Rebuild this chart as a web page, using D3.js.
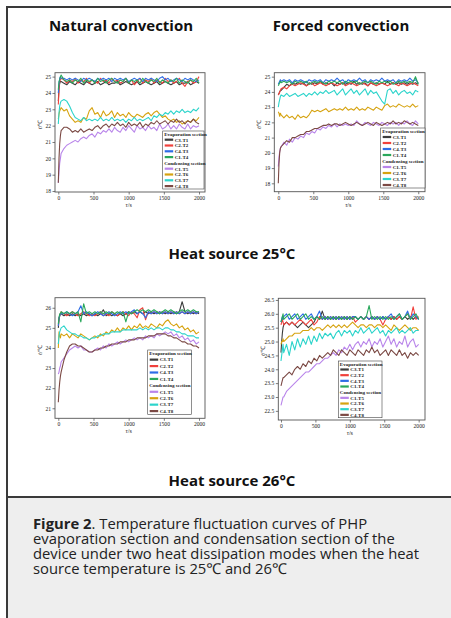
<!DOCTYPE html>
<html><head><meta charset="utf-8">
<script src="https://cdn.jsdelivr.net/npm/d3@7"></script>
<style>html,body{margin:0;padding:0;background:#fff;}svg{display:block;}#wrap{position:relative;width:451px;height:618px;}</style>
</head><body>
<div id="wrap"></div>
<script>
// ---------- DATA ----------
const time = [0,10,20,30,40,80,120,160,200,240,280,320,360,400,440,480,520,560,600,640,680,720,760,800,840,880,920,960,1000,1040,1080,1120,1160,1200,1240,1280,1320,1360,1400,1440,1480,1520,1560,1600,1640,1680,1720,1760,1800,1840,1880,1920,1960,2000];
const seriesNames = ["C3-T1","C2-T2","C4-T3","C1-T4","C1-T5","C2-T6","C3-T7","C4-T8"];
const xTicks = [0,500,1000,1500,2000];
const yTicksNat25 = [18,19,20,21,22,23,24,25];
const yTicksFor25 = [18,19,20,21,22,23,24,25];
const yTicksNat26 = [21,22,23,24,25,26];
const yTicksFor26 = [22.5,23.0,23.5,24.0,24.5,25.0,25.5,26.0,26.5];

// Natural convection, heat source 25°C
const nat25_T1 = [23.5,24.3,24.6,24.7,24.7,24.6,24.5,24.7,24.6,24.5,24.7,24.6,24.5,24.7,24.6,24.5,24.6,24.7,24.5,24.6,24.7,24.5,24.6,24.6,24.7,24.5,24.6,24.7,24.6,24.5,24.6,24.7,24.5,24.6,24.7,24.6,24.5,24.6,24.7,24.5,24.6,24.7,24.6,24.5,24.6,24.7,24.5,24.6,24.6,24.7,24.5,24.6,24.7,24.6];
const nat25_T2 = [23.3,24.2,24.7,24.8,24.9,24.8,24.6,24.8,24.7,24.9,24.6,24.8,24.7,24.9,24.6,24.8,24.7,24.6,24.9,24.7,24.8,24.6,24.9,24.7,24.8,24.6,24.7,24.9,24.6,24.8,24.5,24.7,24.9,24.6,24.8,24.7,24.9,24.6,24.8,24.7,24.6,24.9,24.7,24.8,24.6,24.7,24.9,24.6,24.4,24.7,24.8,24.6,24.7,25.0];
const nat25_T3 = [24.0,24.6,24.9,25.0,24.9,24.9,24.8,24.9,24.8,24.9,24.8,24.7,24.9,24.8,24.9,24.8,24.7,24.9,24.8,24.9,24.8,24.9,24.7,24.9,24.8,24.9,24.8,24.9,24.7,24.8,24.9,24.8,24.9,24.7,24.9,24.8,24.9,24.8,24.7,24.9,25.0,24.8,24.9,24.7,24.8,24.9,24.8,24.7,24.9,24.8,24.9,24.8,24.7,24.8];
const nat25_T4 = [24.2,24.7,24.8,25.0,25.1,24.8,24.7,24.8,24.6,24.8,24.7,24.9,24.6,24.8,24.7,24.8,24.6,24.9,24.7,24.8,24.6,24.8,24.9,24.7,24.6,24.8,24.7,24.9,24.6,24.8,24.7,24.8,24.6,24.9,24.7,24.6,24.8,24.7,24.9,24.6,24.8,24.7,24.6,24.8,24.7,24.9,24.6,24.8,24.7,24.6,24.8,24.7,24.9,24.6];
const nat25_T5 = [18.5,19.2,19.7,20.0,20.3,20.6,20.8,20.9,21.0,21.1,21.0,21.2,21.3,21.2,21.4,21.5,21.3,21.6,21.5,21.7,21.6,21.8,21.6,21.9,21.7,21.6,21.9,21.7,22.0,21.8,21.6,22.0,21.8,21.9,21.7,22.0,21.8,21.9,21.7,22.1,21.8,21.9,22.1,21.8,22.0,21.8,22.1,21.9,21.8,22.1,21.8,22.0,21.9,22.0];
const nat25_T6 = [22.4,22.7,22.9,23.0,23.1,22.9,23.0,22.6,22.4,22.2,22.3,22.2,22.5,22.4,22.9,23.1,22.7,22.8,22.5,22.9,22.6,22.7,22.9,22.5,22.8,22.6,22.7,22.5,22.8,22.6,22.5,22.7,22.6,22.5,22.7,22.8,22.6,22.8,22.9,22.7,22.5,22.6,22.4,22.3,22.4,22.2,22.3,22.1,22.2,22.3,22.2,22.4,22.3,22.5];
const nat25_T7 = [22.1,22.8,23.2,23.4,23.5,23.6,23.5,23.2,22.8,22.5,22.4,22.3,22.5,22.3,22.4,22.3,22.4,22.3,22.5,22.3,22.4,22.3,22.5,22.3,22.4,22.3,22.4,22.2,22.4,22.3,22.5,22.3,22.4,22.3,22.4,22.5,22.3,22.6,22.5,22.7,22.6,22.8,22.7,22.9,22.7,22.9,22.8,23.0,22.8,22.9,22.8,23.0,22.9,23.1];
const nat25_T8 = [18.5,20.0,20.9,21.4,21.7,21.9,21.9,21.8,21.6,21.7,21.6,21.8,21.6,21.7,21.8,21.7,21.9,22.0,21.8,22.0,22.1,21.9,22.1,22.0,22.2,22.0,22.1,21.9,22.2,22.0,22.1,22.0,22.2,21.9,22.1,22.0,22.2,22.1,22.3,22.1,22.2,22.3,22.1,22.3,22.2,22.4,22.2,22.3,22.1,22.3,22.2,22.4,22.2,22.1];

// Forced convection, heat source 25°C
const for25_T1 = [23.8,23.9,24.0,24.1,24.1,24.3,24.5,24.4,24.6,24.5,24.6,24.5,24.6,24.4,24.6,24.5,24.6,24.5,24.7,24.5,24.6,24.5,24.6,24.4,24.6,24.5,24.6,24.5,24.6,24.5,24.7,24.5,24.6,24.5,24.6,24.4,24.6,24.5,24.6,24.5,24.6,24.5,24.7,24.5,24.6,24.5,24.6,24.5,24.6,24.5,24.6,24.5,24.6,24.5];
const for25_T2 = [23.8,23.9,24.0,24.1,24.2,24.3,24.2,24.4,24.5,24.4,24.5,24.6,24.5,24.4,24.5,24.6,24.4,24.5,24.6,24.5,24.4,24.5,24.6,24.5,24.4,24.5,24.6,24.4,24.5,24.6,24.5,24.4,24.5,24.6,24.5,24.4,24.6,24.5,24.4,24.5,24.6,24.5,24.4,24.5,24.6,24.5,24.4,24.6,24.5,24.4,24.5,24.6,24.5,24.4];
const for25_T3 = [24.5,24.6,24.7,24.8,24.7,24.8,24.7,24.8,24.6,24.8,24.7,24.8,24.7,24.6,24.8,24.7,24.8,24.7,24.8,24.6,24.8,24.7,24.8,24.7,24.9,24.7,24.8,24.6,24.8,24.7,24.8,24.7,24.9,24.7,24.8,24.6,24.8,24.7,24.8,24.7,24.9,24.7,24.8,24.7,24.8,24.6,24.8,24.7,24.8,24.7,24.9,24.7,24.8,24.6];
const for25_T4 = [24.4,24.5,24.6,24.7,24.6,24.7,24.6,24.7,24.5,24.7,24.6,24.7,24.6,24.7,24.5,24.6,24.7,24.6,24.7,24.6,24.5,24.7,24.6,24.7,24.6,24.7,24.5,24.7,24.6,24.7,24.6,24.7,24.5,24.6,24.7,24.6,24.7,24.6,24.5,24.7,24.6,24.7,24.6,24.7,24.5,24.6,24.7,24.6,24.7,24.6,24.7,24.6,25.0,24.5];
const for25_T5 = [19.1,19.7,20.1,20.3,20.4,20.7,20.5,20.9,20.7,21.0,20.9,21.1,21.0,21.3,21.2,21.4,21.3,21.6,21.5,21.7,21.6,21.8,21.7,21.9,21.7,21.9,21.8,21.9,21.8,21.9,21.8,22.1,21.9,21.8,22.0,21.9,21.8,22.0,21.9,21.8,22.0,21.9,21.8,22.0,21.9,22.0,21.8,22.0,21.9,22.1,21.9,21.8,22.1,21.9];
const for25_T6 = [22.7,22.6,22.4,22.6,22.5,22.3,22.5,22.3,22.4,22.2,22.5,22.3,22.4,22.3,22.5,22.8,22.7,22.8,22.7,22.8,22.9,22.7,22.8,22.9,22.8,22.9,22.8,23.0,22.8,22.9,22.8,23.0,22.8,22.9,22.8,23.0,22.9,22.8,23.0,22.9,22.8,23.1,23.2,23.0,23.1,23.0,23.2,23.1,23.0,23.1,23.0,23.2,23.0,23.1];
const for25_T7 = [23.0,23.3,23.5,23.7,23.8,23.7,23.9,23.7,23.8,23.9,23.7,23.8,23.9,23.7,23.9,23.8,24.0,23.8,24.0,23.9,24.1,23.9,24.0,24.1,23.8,24.0,24.2,23.8,24.0,24.2,23.9,24.1,23.8,24.0,24.2,23.8,24.1,23.9,24.0,23.7,23.4,23.2,24.1,24.2,23.9,24.1,23.8,24.0,24.1,23.9,24.0,23.8,24.1,24.0];
const for25_T8 = [18.0,19.3,20.0,20.3,20.4,20.6,20.8,20.7,21.0,21.0,21.1,21.2,21.2,21.4,21.4,21.5,21.6,21.6,21.7,21.8,21.8,21.9,21.8,21.9,21.9,21.8,21.9,22.0,21.9,21.8,21.9,22.0,21.9,21.8,21.9,22.0,21.9,21.8,22.0,21.9,21.8,21.9,22.0,21.9,22.1,21.9,22.0,21.9,22.1,22.0,21.9,22.0,21.9,21.8];

// Natural convection, heat source 26°C
const nat26_T1 = [25.0,25.4,25.6,25.7,25.7,25.6,25.7,25.6,25.7,25.6,25.7,25.6,25.7,25.6,25.7,25.6,25.7,25.6,25.7,25.9,25.6,25.7,25.6,25.7,25.6,25.7,25.6,25.7,25.8,25.7,25.8,25.7,25.8,25.7,25.8,25.7,25.8,25.7,25.8,25.7,25.8,25.7,25.8,25.7,25.8,25.7,25.8,26.3,25.8,25.7,25.8,25.7,25.8,25.7];
const nat26_T2 = [25.1,25.5,25.6,25.7,25.8,25.7,25.6,25.7,25.8,25.7,25.6,25.7,25.8,25.7,25.6,25.7,25.6,25.7,25.8,25.6,25.7,25.6,25.8,25.7,25.6,25.7,25.8,25.7,25.6,25.8,25.7,25.5,25.9,26.0,25.4,25.8,25.7,25.8,25.7,25.8,25.7,25.8,25.7,25.8,25.7,25.8,25.7,25.8,25.7,25.8,25.7,25.8,25.7,25.8];
const nat26_T3 = [25.1,25.5,25.6,25.7,25.7,25.7,25.8,25.7,25.6,25.7,25.8,26.1,25.7,25.8,25.7,25.6,25.7,25.8,25.7,25.6,25.7,25.8,25.7,25.6,25.7,25.8,25.7,25.8,25.7,25.8,25.9,25.7,25.8,25.7,25.5,25.8,25.7,25.8,25.7,25.8,25.7,25.8,25.7,25.8,25.7,25.8,25.7,25.8,25.7,25.8,25.7,25.8,25.7,25.8];
const nat26_T4 = [25.2,25.5,25.7,25.7,25.8,25.7,25.8,25.7,25.8,25.7,25.8,25.3,26.2,25.7,25.8,25.7,25.8,25.7,25.8,25.7,25.8,25.7,25.8,25.7,25.8,25.7,25.8,25.3,25.8,25.7,25.8,25.9,25.8,25.9,25.8,25.9,25.8,25.9,25.8,25.7,25.8,25.9,25.8,25.9,25.8,25.7,25.8,25.9,25.8,25.9,25.8,25.9,25.8,25.8];
const nat26_T5 = [22.7,22.8,23.0,23.1,23.3,23.5,23.7,23.9,24.0,24.1,24.0,24.1,23.9,23.9,23.8,23.8,23.9,24.0,23.9,24.1,24.0,24.2,24.1,24.2,24.3,24.2,24.3,24.4,24.3,24.4,24.5,24.4,24.5,24.4,24.6,24.5,24.6,24.5,24.7,24.6,24.7,24.8,24.7,24.8,24.6,24.7,24.5,24.6,24.4,24.5,24.3,24.4,24.2,24.3];
const nat26_T6 = [24.0,24.8,24.6,24.5,24.7,24.6,24.7,24.5,24.7,24.6,24.5,24.7,24.6,24.5,24.4,24.5,24.6,24.5,24.7,24.6,24.8,24.7,24.9,24.8,25.0,24.8,25.0,24.9,25.1,24.9,25.1,25.0,25.2,25.0,25.1,25.0,25.2,25.1,25.0,25.2,25.1,25.3,25.4,25.2,25.1,25.2,25.0,25.1,24.9,25.0,24.8,24.9,24.7,24.8];
const nat26_T7 = [24.2,24.6,24.8,24.9,25.0,25.1,24.9,24.8,24.7,24.7,24.6,24.6,24.5,24.5,24.4,24.5,24.5,24.6,24.6,24.7,24.7,24.7,24.8,24.8,24.8,24.8,24.9,24.9,24.9,24.9,24.9,24.9,25.0,24.9,25.0,24.9,25.0,24.9,25.0,25.0,24.9,25.0,25.0,24.9,24.9,24.8,24.8,24.7,24.7,24.6,24.6,24.6,24.5,24.5];
const nat26_T8 = [21.3,21.9,22.3,22.6,22.8,23.4,23.8,24.1,24.2,24.2,24.1,24.1,24.0,23.9,23.8,23.8,23.9,23.9,24.0,24.0,24.1,24.1,24.2,24.2,24.2,24.3,24.3,24.3,24.4,24.4,24.4,24.5,24.5,24.5,24.5,24.6,24.6,24.6,24.7,24.7,24.7,24.7,24.6,24.6,24.5,24.5,24.4,24.3,24.3,24.2,24.2,24.1,24.1,24.0];

// Forced convection, heat source 26°C
const for26_T1 = [24.6,25.0,25.3,25.5,25.6,25.7,25.6,25.7,25.6,25.5,25.6,25.7,25.6,25.5,25.6,25.7,25.9,25.8,26.1,25.8,25.9,25.8,25.9,25.8,25.9,25.8,25.9,25.8,25.9,25.8,25.9,25.8,25.9,25.8,25.9,25.8,25.9,25.8,25.9,25.8,25.9,25.8,25.9,25.8,25.9,25.8,25.9,25.8,25.9,25.8,25.9,25.8,25.9,25.8];
const for26_T2 = [25.6,25.7,25.8,25.7,25.6,25.7,25.6,25.7,25.6,25.7,25.8,25.7,25.6,25.7,25.8,25.6,25.7,25.9,25.8,25.9,25.8,25.9,25.8,25.9,25.8,25.9,25.8,25.9,25.8,25.9,25.7,25.8,25.9,25.8,25.9,25.8,25.9,25.8,25.9,25.8,25.6,25.8,25.9,25.8,25.9,25.8,25.9,25.8,25.9,26.0,25.8,26.25,25.8,25.9];
const for26_T3 = [25.7,25.8,25.9,25.8,25.9,26.0,25.8,25.9,26.0,25.8,25.9,26.0,25.8,25.9,26.0,25.8,25.9,26.1,25.8,25.9,25.8,25.9,25.8,25.9,25.8,25.9,25.8,25.9,25.8,25.9,25.9,25.8,25.9,25.8,25.9,25.8,25.9,25.8,25.9,25.8,25.9,25.8,25.9,26.0,25.8,25.9,26.0,25.8,25.9,26.1,25.8,26.0,25.9,25.8];
const for26_T4 = [25.7,25.8,25.9,26.0,25.8,25.9,26.0,25.8,25.9,26.0,25.8,25.9,26.0,25.8,25.9,25.8,25.9,25.8,25.9,25.8,25.9,25.8,25.9,25.8,25.9,25.8,25.9,25.8,25.9,25.8,25.9,25.8,25.9,25.8,25.9,26.3,25.8,25.9,25.8,25.9,25.8,25.9,25.8,25.9,25.8,25.9,26.0,25.8,25.9,26.0,25.8,25.9,26.0,25.8];
const for26_T5 = [22.7,22.8,22.9,23.0,23.0,23.2,23.3,23.4,23.5,23.6,23.7,23.8,23.9,23.9,24.0,24.1,24.2,24.2,24.3,24.4,24.4,24.5,24.6,24.5,24.7,24.6,24.8,24.7,24.9,24.7,24.9,25.0,24.8,25.0,24.9,25.1,24.8,25.0,24.9,25.1,24.8,25.0,25.2,24.9,25.1,24.8,25.0,24.9,25.2,24.8,25.0,25.1,24.8,24.9];
const for26_T6 = [24.9,25.0,25.0,25.1,25.0,25.1,25.2,25.2,25.3,25.3,25.3,25.4,25.4,25.4,25.5,25.4,25.5,25.5,25.4,25.5,25.6,25.5,25.6,25.5,25.6,25.5,25.6,25.5,25.6,25.7,25.6,25.5,25.6,25.6,25.5,25.6,25.6,25.5,25.6,25.6,25.5,25.6,25.5,25.4,25.6,25.5,25.4,25.5,25.6,25.5,25.4,25.5,25.5,25.4];
const for26_T7 = [24.3,24.5,24.7,24.9,24.6,24.9,24.5,25.0,24.7,25.1,24.8,25.1,24.9,25.2,24.9,25.2,25.0,25.3,25.1,25.3,25.2,25.3,25.1,25.3,25.4,25.2,25.4,25.3,25.4,25.2,25.4,25.3,25.5,25.3,25.4,25.5,25.3,25.4,25.5,25.3,25.4,25.2,25.4,25.3,25.4,25.5,25.3,25.4,25.3,25.4,25.5,25.3,25.4,25.4];
const for26_T8 = [23.4,23.5,23.6,23.7,23.7,23.8,23.9,23.8,24.0,24.1,24.0,24.2,24.1,24.3,24.2,24.4,24.3,24.5,24.4,24.5,24.6,24.5,24.7,24.6,24.5,24.7,24.6,24.5,24.7,24.6,24.5,24.7,24.6,24.5,24.7,24.6,24.8,24.6,24.7,24.5,24.6,24.7,24.5,24.7,24.6,24.5,24.7,24.5,24.6,24.4,24.6,24.5,24.6,24.5];

// ---------- STYLE / LAYOUT ----------
const colors = ["#3c3c3c","#f0413c","#2d6ce6","#2aa85c","#b985ea","#d6a310","#2cd4cb","#7b4944"];
const W = 451, H = 618;
const serif = "'Liberation Serif','Times New Roman',serif";
const sans = "'Open Sans','Noto Sans',sans-serif";

const panels = [
  {box:[55,72.7,205,192], xd:[-47,2085], yd:[17.94,25.24], yt:yTicksNat25, fmt:d3.format("d"),
   data:[nat25_T1,nat25_T2,nat25_T3,nat25_T4,nat25_T5,nat25_T6,nat25_T7,nat25_T8], leg:[162.7,131,41.3,58]},
  {box:[274.3,72.7,425,191.7], xd:[-57,2096], yd:[17.45,25.26], yt:yTicksFor25, fmt:d3.format("d"),
   data:[for25_T1,for25_T2,for25_T3,for25_T4,for25_T5,for25_T6,for25_T7,for25_T8], leg:[380.7,128,44.3,60]},
  {box:[55,297.7,205,418.3], xd:[-47,2085], yd:[20.5,26.5], yt:yTicksNat26, fmt:d3.format("d"),
   data:[nat26_T1,nat26_T2,nat26_T3,nat26_T4,nat26_T5,nat26_T6,nat26_T7,nat26_T8], leg:[147.7,350,43.6,64.3]},
  {box:[278.3,298.3,425,420], xd:[-39,2092], yd:[22.17,26.56], yt:yTicksFor26, fmt:d3.format(".1f"),
   data:[for26_T1,for26_T2,for26_T3,for26_T4,for26_T5,for26_T6,for26_T7,for26_T8], leg:[338.3,361,43.7,56.7]}
];

const wrap = d3.select("#wrap");
const svg = wrap.append("svg").attr("width",W).attr("height",H);
svg.append("rect").attr("width",W).attr("height",H).attr("fill","#fff");

// caption background & frame
svg.append("rect").attr("x",8).attr("y",498).attr("width",W-8).attr("height",H-498).attr("fill","#eeeeee");
svg.append("line").attr("x1",6).attr("x2",W).attr("y1",7).attr("y2",7).attr("stroke","#3a3a3a").attr("stroke-width",2);
svg.append("line").attr("x1",7).attr("x2",7).attr("y1",6).attr("y2",H).attr("stroke","#3a3a3a").attr("stroke-width",2);
svg.append("line").attr("x1",7).attr("x2",W).attr("y1",497).attr("y2",497).attr("stroke","#3a3a3a").attr("stroke-width",2);

// titles
const titles = [["Natural convection",121,31],["Forced convection",341,31],["Heat source 25°C",232,259],["Heat source 26°C",232,486]];
svg.selectAll("text.title").data(titles).enter().append("text")
  .attr("x",d=>d[1]).attr("y",d=>d[2]).attr("text-anchor","middle")
  .attr("font-family",sans).attr("font-weight","bold").attr("font-size",15).attr("fill","#111").text(d=>d[0]);

// caption as an HTML paragraph with a tight line-height (as in the reference)
const capLines = [
  "<b>Figure 2</b>. Temperature fluctuation curves of PHP",
  "evaporation section and condensation section of the",
  "device under two heat dissipation modes when the heat",
  "source temperature is 25℃ and 26℃"
];
wrap.append("div")
  .style("position","absolute").style("left","33px").style("top","515.7px")
  .style("font-family",sans).style("font-size","14.8px").style("line-height","15.2px")
  .style("color","#222").style("white-space","nowrap")
  .html(capLines.join("<br>"));

// panels
panels.forEach(p=>{
  const [x0,y0,x1,y1] = p.box;
  const x = d3.scaleLinear().domain(p.xd).range([x0,x1]);
  const y = d3.scaleLinear().domain(p.yd).range([y1,y0]);
  const g = svg.append("g");
  const clipId = "c"+Math.round(x0)+"_"+Math.round(y0);
  g.append("clipPath").attr("id",clipId).append("rect").attr("x",x0).attr("y",y0).attr("width",x1-x0).attr("height",y1-y0);

  const line = d3.line().x((d,i)=>x(time[i])).y(d=>y(d));
  const lg = g.append("g").attr("clip-path",`url(#${clipId})`);
  p.data.forEach((s,k)=>{
    lg.append("path").datum(s).attr("d",line).attr("fill","none")
      .attr("stroke",colors[k]).attr("stroke-width",1.1).attr("stroke-linejoin","round");
  });

  // axes
  const xa = g.append("g").attr("transform",`translate(0,${y1})`)
    .call(d3.axisBottom(x).tickValues(xTicks).tickSize(2.5).tickPadding(1.5).tickFormat(d3.format("d")));
  const ya = g.append("g").attr("transform",`translate(${x0},0)`)
    .call(d3.axisLeft(y).tickValues(p.yt).tickSize(2.5).tickPadding(1.5).tickFormat(p.fmt));
  [xa,ya].forEach(a=>{
    a.select(".domain").remove();
    a.selectAll("line").attr("stroke","#444").attr("stroke-width",0.7);
    a.selectAll("text").attr("font-family",serif).attr("font-size",5.6).attr("fill","#222");
  });
  g.append("rect").attr("x",x0).attr("y",y0).attr("width",x1-x0).attr("height",y1-y0)
    .attr("fill","none").attr("stroke","#555").attr("stroke-width",0.9);

  // axis titles
  g.append("text").attr("x",(x(0)+x(2000))/2).attr("y",y1+15).attr("text-anchor","middle")
    .attr("font-family",serif).attr("font-size",6).attr("fill","#222")
    .html('<tspan font-style="italic">τ</tspan>/s');
  const yc = (y0+y1)/2 - 8;
  g.append("text").attr("transform",`translate(${x0-13},${yc}) rotate(-90)`).attr("text-anchor","middle")
    .attr("font-family",serif).attr("font-size",6).attr("fill","#222")
    .html('<tspan font-style="italic">t</tspan>/℃');

  // legend
  const [lx,ly,lw,lh] = p.leg;
  const lgG = g.append("g");
  lgG.append("rect").attr("x",lx).attr("y",ly).attr("width",lw).attr("height",lh)
    .attr("fill","#fff").attr("stroke","#444").attr("stroke-width",0.6);
  const rh = lh/10;
  const rows = [];
  rows.push({head:"Evaporation section"});
  for(let k=0;k<4;k++) rows.push({k});
  rows.push({head:"Condensing section"});
  for(let k=4;k<8;k++) rows.push({k});
  rows.forEach((r,i)=>{
    const cy = ly + rh*(i+0.5);
    if(r.head){
      lgG.append("text").attr("x",lx+1.5).attr("y",cy+1.8).attr("font-family",serif)
        .attr("font-weight","bold").attr("font-size",5).attr("fill","#222").text(r.head);
    } else {
      lgG.append("line").attr("x1",lx+2).attr("x2",lx+10.5).attr("y1",cy).attr("y2",cy)
        .attr("stroke",colors[r.k]).attr("stroke-width",2.2);
      lgG.append("text").attr("x",lx+12).attr("y",cy+1.8).attr("font-family",serif)
        .attr("font-weight","bold").attr("font-size",5).attr("fill","#222").text(seriesNames[r.k]);
    }
  });
});
</script>
</body></html>
